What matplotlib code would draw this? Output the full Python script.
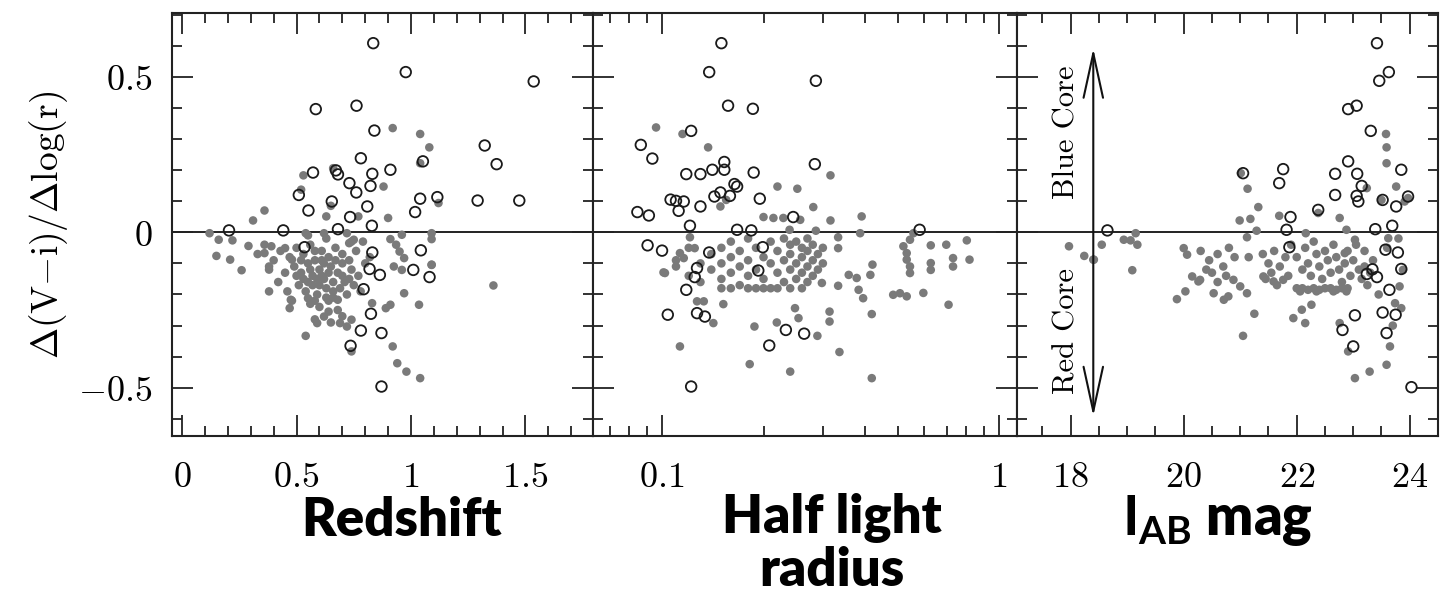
import matplotlib
matplotlib.use("Agg")
import matplotlib.pyplot as plt
from matplotlib.ticker import MultipleLocator, FixedLocator, NullFormatter
from matplotlib.patches import FancyArrowPatch
import numpy as np

plt.rcParams['mathtext.fontset'] = 'cm'

# ---------------- data ----------------
# Panel 1: redshift
z_open_x = [0.835, 0.977, 1.536, 0.584, 0.762, 0.840, 1.322, 0.781, 1.374, 0.572, 0.672, 0.681,
            0.831, 0.910, 1.052, 0.731, 0.823, 0.761, 0.510, 0.654, 0.809, 1.040, 1.115, 1.291,
            1.473, 0.552, 1.018, 0.734, 0.829, 0.205, 0.442, 0.681, 0.535, 0.831, 1.043, 0.819,
            0.864, 1.010, 1.081, 0.793, 0.825, 0.781, 0.871, 0.736, 0.871]
z_open_y = [0.608, 0.515, 0.485, 0.396, 0.407, 0.327, 0.279, 0.238, 0.219, 0.192, 0.199, 0.186,
            0.188, 0.201, 0.228, 0.158, 0.149, 0.128, 0.120, 0.099, 0.083, 0.108, 0.113, 0.102,
            0.102, 0.070, 0.065, 0.049, 0.021, 0.006, 0.006, 0.010, -0.048, -0.065, -0.058, -0.118,
            -0.137, -0.121, -0.144, -0.183, -0.262, -0.316, -0.324, -0.365, -0.496]
z_filled = [(0.92, 0.335), (1.04, 0.316), (1.08, 0.273), (1.04, 0.222), (0.53, 0.183), (0.66, 0.206),
            (0.88, 0.147), (0.52, 0.137), (1.12, 0.094), (0.65, 0.085), (0.36, 0.070), (0.31, 0.038),
            (0.90, 0.046), (0.77, 0.051), (0.63, 0.051), (0.12, -0.003), (0.16, -0.024), (0.22, -0.026),
            (0.29, -0.044), (0.15, -0.076), (0.21, -0.088), (0.26, -0.122), (0.36, -0.067), (0.38, -0.110),
            (0.39, -0.045), (0.45, -0.051), (0.48, -0.088), (0.54, -0.003), (0.62, -0.003), (0.96, -0.008),
            (1.09, -0.003), (1.09, -0.022), (0.91, -0.022), (0.935, -0.040), (0.95, -0.062), (0.97, -0.083),
            (1.09, -0.104), (0.925, -0.110), (0.96, -0.121), (1.36, -0.171), (0.73, -0.035), (0.75, -0.024),
            (0.72, -0.003), (0.38, -0.190), (0.475, -0.217), (0.47, -0.244), (0.55, -0.212), (0.59, -0.292),
            (0.62, -0.271), (0.64, -0.255), (0.68, -0.217), (0.69, -0.292), (0.72, -0.303), (0.74, -0.281),
            (0.54, -0.333), (0.74, -0.383), (0.83, -0.228), (0.89, -0.244), (0.91, -0.233), (0.92, -0.367),
            (0.94, -0.421), (0.98, -0.448), (1.04, -0.469), (0.97, -0.196), (1.035, -0.233), (1.09, -0.105),
            (0.50, -0.05), (0.53, -0.07), (0.56, -0.04), (0.58, -0.09), (0.61, -0.06), (0.64, -0.08),
            (0.67, -0.05), (0.70, -0.07), (0.73, -0.09), (0.76, -0.06), (0.49, -0.11), (0.52, -0.13),
            (0.55, -0.10), (0.57, -0.14), (0.60, -0.12), (0.62, -0.15), (0.65, -0.11), (0.68, -0.13),
            (0.71, -0.16), (0.74, -0.12), (0.77, -0.14), (0.51, -0.17), (0.54, -0.19), (0.57, -0.17),
            (0.59, -0.20), (0.63, -0.18), (0.66, -0.21), (0.69, -0.18), (0.72, -0.20), (0.75, -0.17),
            (0.78, -0.19), (0.56, -0.23), (0.60, -0.24), (0.64, -0.22), (0.68, -0.25), (0.62, -0.10),
            (0.59, -0.15), (0.66, -0.16), (0.53, -0.15), (0.70, -0.10), (0.47, -0.08), (0.45, -0.13),
            (0.43, -0.06), (0.40, -0.09), (0.38, -0.12), (0.42, -0.16), (0.46, -0.19), (0.48, -0.22),
            (0.36, -0.04), (0.33, -0.07), (0.80, -0.10), (0.82, -0.08), (0.79, -0.03), (0.74, -0.03),
            (0.63, -0.02), (0.55, -0.01), (0.58, -0.28), (0.65, -0.29), (0.70, -0.27),
            (0.58, -0.06), (0.61, -0.09), (0.64, -0.13), (0.67, -0.09), (0.56, -0.12), (0.60, -0.17),
            (0.55, -0.16), (0.63, -0.21), (0.70, -0.14), (0.52, -0.09), (0.66, -0.19), (0.73, -0.15),
            (0.50, -0.14), (0.58, -0.22), (0.61, -0.14)]

# Panel 2: half light radius
r_open_x = [0.150, 0.138, 0.286, 0.157, 0.186, 0.122, 0.0865, 0.0936, 0.153, 0.284, 0.118, 0.130,
            0.141, 0.153, 0.187, 0.164, 0.167, 0.149, 0.159, 0.143, 0.106, 0.110, 0.116, 0.112,
            0.130, 0.195, 0.0845, 0.0914, 0.245, 0.121, 0.167, 0.184, 0.581, 0.0906, 0.100, 0.138,
            0.199, 0.127, 0.193, 0.125, 0.118, 0.104, 0.127, 0.134, 0.233, 0.264, 0.208, 0.122]
r_open_y = [0.608, 0.515, 0.487, 0.407, 0.397, 0.326, 0.281, 0.237, 0.226, 0.219, 0.187, 0.187,
            0.201, 0.201, 0.192, 0.155, 0.147, 0.128, 0.117, 0.115, 0.105, 0.101, 0.099, 0.069,
            0.083, 0.108, 0.065, 0.054, 0.049, 0.021, 0.008, 0.006, 0.008, -0.042, -0.059, -0.065,
            -0.048, -0.115, -0.123, -0.144, -0.185, -0.265, -0.260, -0.271, -0.314, -0.326, -0.364, -0.496]
r_filled = [(0.096, 0.337), (0.115, 0.316), (0.137, 0.273), (0.316, 0.183), (0.220, 0.147), (0.252, 0.140),
            (0.281, 0.081), (0.155, 0.104), (0.149, 0.083), (0.200, 0.049), (0.214, 0.046), (0.229, 0.046),
            (0.257, 0.040), (0.316, 0.038), (0.391, 0.051), (0.239, 0.008), (0.286, 0.005), (0.387, -0.003),
            (0.333, -0.016), (0.333, -0.051), (0.121, -0.016), (0.125, -0.051), (0.113, -0.067), (0.116, -0.083),
            (0.102, -0.131), (0.110, -0.110), (0.421, -0.104), (0.415, -0.137), (0.378, -0.147), (0.358, -0.137),
            (0.298, -0.163), (0.333, -0.172), (0.395, -0.212), (0.383, -0.185), (0.520, -0.045), (0.532, -0.067),
            (0.532, -0.088), (0.544, -0.110), (0.544, -0.131), (0.544, -0.024), (0.557, -0.003), (0.627, -0.042),
            (0.627, -0.099), (0.627, -0.121), (0.697, -0.040), (0.730, -0.083), (0.730, -0.110), (0.802, -0.026),
            (0.817, -0.088), (0.596, -0.195), (0.485, -0.201), (0.508, -0.196), (0.532, -0.206), (0.101, -0.129),
            (0.113, -0.367), (0.127, -0.222), (0.133, -0.222), (0.142, -0.292), (0.152, -0.231), (0.182, -0.424),
            (0.188, -0.303), (0.219, -0.290), (0.240, -0.448), (0.248, -0.244), (0.254, -0.276), (0.289, -0.333),
            (0.314, -0.255), (0.314, -0.287), (0.336, -0.385), (0.419, -0.263), (0.419, -0.469), (0.708, -0.233),
            (0.15, -0.05), (0.15, -0.10), (0.15, -0.15), (0.15, -0.18), (0.16, -0.03), (0.16, -0.08),
            (0.16, -0.13), (0.16, -0.18), (0.17, -0.06), (0.17, -0.11), (0.17, -0.17), (0.18, -0.02),
            (0.18, -0.09), (0.18, -0.14), (0.18, -0.18), (0.19, -0.05), (0.19, -0.12), (0.19, -0.18),
            (0.20, -0.08), (0.20, -0.15), (0.20, -0.18), (0.21, -0.03), (0.21, -0.10), (0.21, -0.18),
            (0.22, -0.06), (0.22, -0.13), (0.22, -0.18), (0.23, -0.02), (0.23, -0.09), (0.23, -0.16),
            (0.24, -0.04), (0.24, -0.07), (0.24, -0.12), (0.24, -0.18), (0.25, -0.03), (0.25, -0.10),
            (0.25, -0.15), (0.26, -0.05), (0.26, -0.08), (0.26, -0.13), (0.26, -0.18), (0.27, -0.02),
            (0.27, -0.06), (0.27, -0.11), (0.27, -0.16), (0.28, -0.04), (0.28, -0.09), (0.28, -0.14),
            (0.29, -0.07), (0.29, -0.12), (0.30, -0.05), (0.30, -0.10), (0.14, -0.12), (0.14, -0.07),
            (0.13, -0.16), (0.13, -0.10), (0.12, -0.05), (0.12, -0.14), (0.11, -0.09)]

# Panel 3: I_AB magnitude
m_open_x = [23.42, 23.63, 23.46, 22.91, 23.06, 23.31, 22.91, 21.05, 21.76, 22.68, 23.07, 23.85,
            21.69, 23.15, 22.68, 23.06, 23.09, 23.52, 23.76, 23.97, 22.38, 21.89, 18.65, 21.82,
            23.39, 23.69, 21.87, 23.57, 23.79, 23.85, 23.24, 23.34, 23.42, 23.64, 23.52, 23.75,
            23.03, 22.81, 23.59, 23.00, 24.03]
m_open_y = [0.608, 0.515, 0.487, 0.396, 0.407, 0.326, 0.228, 0.190, 0.203, 0.188, 0.188, 0.201,
            0.158, 0.149, 0.120, 0.117, 0.099, 0.104, 0.083, 0.115, 0.072, 0.049, 0.006, 0.008,
            0.010, 0.021, -0.048, -0.056, -0.065, -0.118, -0.134, -0.119, -0.144, -0.185, -0.258, -0.265,
            -0.267, -0.314, -0.324, -0.367, -0.498]
m_filled = [(23.58, 0.316), (23.59, 0.273), (23.59, 0.222), (21.01, 0.190), (21.13, 0.140), (23.76, 0.147),
            (21.32, 0.081), (23.24, 0.142), (23.50, 0.104), (23.97, 0.110), (23.91, 0.099), (20.99, 0.038),
            (21.18, 0.043), (21.69, 0.053), (22.38, 0.062), (22.76, 0.046), (21.29, 0.005), (21.12, -0.016),
            (22.16, -0.003), (22.88, 0.008), (23.62, -0.019), (23.03, -0.024), (22.85, -0.067), (17.97, -0.045),
            (18.24, -0.076), (18.41, -0.088), (18.55, -0.040), (18.94, -0.024), (19.06, -0.026), (19.15, -0.003),
            (19.18, -0.040), (19.09, -0.122), (20.00, -0.051), (20.06, -0.072), (20.15, -0.142), (20.26, -0.158),
            (21.15, -0.080), (19.88, -0.215), (20.03, -0.190), (20.29, -0.153), (20.53, -0.196), (20.71, -0.217),
            (20.79, -0.206), (20.88, -0.153), (21.00, -0.174), (21.12, -0.196), (21.25, -0.262), (21.05, -0.333),
            (21.41, -0.142), (21.59, -0.158), (21.76, -0.153), (21.94, -0.276), (22.09, -0.249), (22.15, -0.292),
            (22.26, -0.233), (22.06, -0.190), (22.35, -0.190), (22.65, -0.190), (22.88, -0.190), (22.76, -0.292),
            (22.91, -0.383), (23.03, -0.469), (23.29, -0.448), (23.59, -0.426), (23.65, -0.367), (23.74, -0.228),
            (23.85, -0.244), (23.82, -0.174), (23.88, -0.121), (18.40, -0.088), (23.70, -0.300), (23.45, -0.200),
            (23.60, -0.050), (23.80, -0.020),
            (20.30, -0.06), (20.45, -0.09), (20.50, -0.13), (20.60, -0.07), (20.70, -0.11), (20.80, -0.05),
            (20.90, -0.08), (20.60, -0.16), (20.40, -0.12), (20.75, -0.14), (21.40, -0.07), (21.50, -0.10),
            (21.55, -0.13), (21.60, -0.06), (21.70, -0.11), (21.80, -0.08), (21.85, -0.14), (21.45, -0.15),
            (21.65, -0.17), (21.90, -0.04), (22.00, -0.08), (22.10, -0.12), (22.15, -0.05), (22.20, -0.10),
            (22.25, -0.14), (22.30, -0.03), (22.35, -0.07), (22.40, -0.11), (22.45, -0.15), (22.50, -0.06),
            (22.55, -0.09), (22.60, -0.13), (22.65, -0.04), (22.70, -0.08), (22.75, -0.12), (22.80, -0.16),
            (22.85, -0.10), (22.90, -0.06), (22.95, -0.14), (23.00, -0.09), (22.00, -0.18), (22.10, -0.18),
            (22.20, -0.185), (22.30, -0.18), (22.40, -0.185), (22.50, -0.18), (22.60, -0.18), (22.70, -0.185),
            (22.80, -0.18), (22.90, -0.18), (23.10, -0.12), (23.15, -0.15), (23.20, -0.11), (23.25, -0.17),
            (23.30, -0.13), (23.35, -0.09), (23.05, -0.04), (23.20, -0.06)]

y_ticks = [-0.5, 0, 0.5]
y_ticklabels = [r'$-0.5$', r'$0$', r'$0.5$']
z_ticks = [0, 0.5, 1, 1.5]
z_ticklabels = [r'$0$', r'$0.5$', r'$1$', r'$1.5$']
r_ticks = [0.1, 1]
r_ticklabels = [r'$0.1$', r'$1$']
m_ticks = [18, 20, 22, 24]
m_ticklabels = [r'$18$', r'$20$', r'$22$', r'$24$']

# ---------------- figure ----------------
W, H = 1452, 597
fig = plt.figure(figsize=(W / 100, H / 100), dpi=100)
bottom = 1 - 436 / H
top = 1 - 13 / H
edges = [172, 593, 1017, 1438]
axes = []
for i in range(3):
    ax = fig.add_axes([edges[i] / W, bottom, (edges[i + 1] - edges[i]) / W, top - bottom])
    axes.append(ax)

grey = '#7a7a7a'
for ax, fill, ox, oy in [(axes[0], z_filled, z_open_x, z_open_y),
                         (axes[1], r_filled, r_open_x, r_open_y),
                         (axes[2], m_filled, m_open_x, m_open_y)]:
    fx = [p[0] for p in fill]
    fy = [p[1] for p in fill]
    ax.scatter(fx, fy, s=38, c=grey, edgecolors='none', zorder=2)
    ax.scatter(ox, oy, s=58, facecolors='none', edgecolors='#1a1a1a', linewidths=1.3, zorder=3)
    ax.axhline(0, color='#111111', lw=1.3, zorder=1)
    ax.set_ylim(-0.655, 0.705)
    ax.yaxis.set_major_locator(FixedLocator(y_ticks))
    ax.yaxis.set_minor_locator(MultipleLocator(0.1))
    ax.tick_params(which='both', direction='in', top=True, right=True, width=1.3, color='#222222')
    ax.tick_params(which='major', length=15)
    ax.tick_params(which='minor', length=7.5)
    ax.tick_params(axis='x', pad=17, labelsize=26)
    ax.tick_params(axis='y', pad=14, labelsize=26)
    for s in ax.spines.values():
        s.set_linewidth(1.5)
        s.set_color('#222222')

# panel 1
ax = axes[0]
ax.set_xlim(-0.044, 1.795)
ax.set_xticks(z_ticks, z_ticklabels)
ax.xaxis.set_minor_locator(MultipleLocator(0.1))
ax.set_yticks(y_ticks, y_ticklabels)
ax.set_ylabel(r'$\Delta(\mathrm{V{-}i})/\Delta\log(\mathrm{r})$', fontsize=27, labelpad=6)

# panel 2
ax = axes[1]
ax.set_xscale('log')
ax.set_xlim(0.0624, 1.13)
ax.set_xticks(r_ticks, r_ticklabels)
ax.xaxis.set_minor_locator(FixedLocator([0.07, 0.08, 0.09, 0.2, 0.3, 0.4, 0.5, 0.6, 0.7, 0.8, 0.9]))
ax.xaxis.set_minor_formatter(NullFormatter())
ax.set_yticks(y_ticks, ['', '', ''])

# panel 3
ax = axes[2]
ax.set_xlim(17.05, 24.5)
ax.set_xticks(m_ticks, m_ticklabels)
ax.xaxis.set_minor_locator(MultipleLocator(0.5))
ax.set_yticks(y_ticks, ['', '', ''])
arr_x = 18.4
ax.add_patch(FancyArrowPatch((arr_x, -0.6), (arr_x, 0.6), arrowstyle='<->,head_length=32,head_width=7',
                             mutation_scale=1, lw=1.5, color='#111111', zorder=4))
ax.text(17.93, 0.32, 'Blue Core', rotation=90, ha='center', va='center', fontsize=22, family='cmr10')
ax.text(17.93, -0.317, 'Red Core', rotation=90, ha='center', va='center', fontsize=22, family='cmr10')

# bottom titles
bold = dict(family='Lato', weight='heavy', fontsize=38, color='black')
fig.text(402 / W, 1 - 520 / H, 'Redshift', ha='center', va='center', **bold)
fig.text(832 / W, 1 - 518 / H, 'Half light', ha='center', va='center', **bold)
fig.text(832 / W, 1 - 570 / H, 'radius', ha='center', va='center', **bold)
t = fig.text(1217 / W, 1 - 520 / H, r'$\mathrm{I}_{\mathrm{AB}}$ mag', ha='center', va='center',
             family='Lato', weight='heavy', fontsize=40, color='black')
plt.rcParams['mathtext.rm'] = 'Lato:bold'
t.set_math_fontfamily('custom')

fig.savefig('out.png', dpi=100)
